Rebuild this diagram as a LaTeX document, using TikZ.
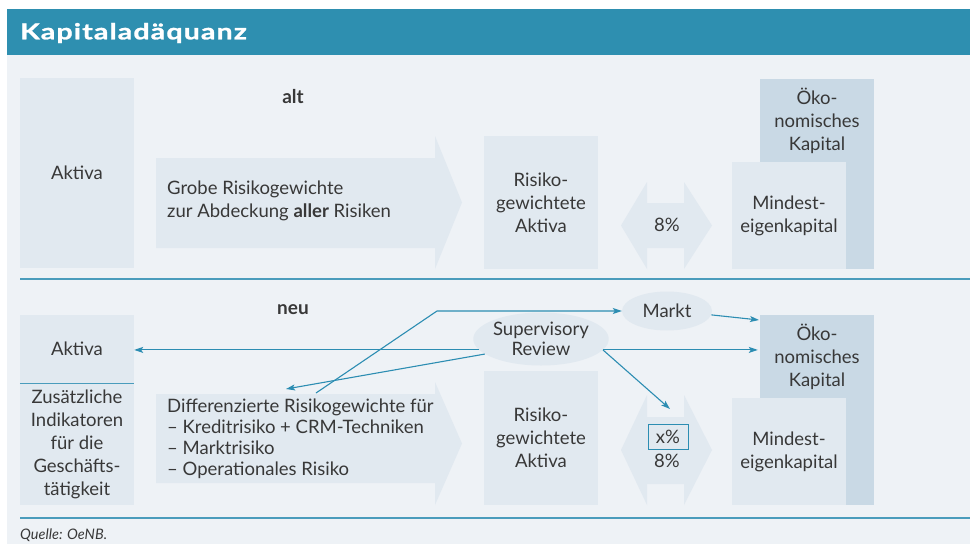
\documentclass[tikz,border=0pt]{standalone}
\usepackage{fontspec}
\setmainfont{Lato}
\newfontfamily\titlefont[FakeStretch=1.3,LetterSpace=5,BoldFeatures={FakeBold=1.2}]{Lato}
\usetikzlibrary{arrows.meta,shapes.geometric}
\definecolor{hdr}{HTML}{2E8FB0}
\definecolor{panel}{HTML}{EEF2F6}
\definecolor{boxlight}{HTML}{E1E9F0}
\definecolor{boxdark}{HTML}{C9D9E5}
\definecolor{sepline}{HTML}{4A9CBC}
\definecolor{arrcol}{HTML}{2C8DB2}
\definecolor{txt}{HTML}{383838}
\tikzset{
  body/.style={font=\fontsize{18.5}{23}\selectfont, text=txt},
  lbox/.style={fill=boxlight, inner sep=0pt, align=center, body},
  dbox/.style={fill=boxdark, inner sep=0pt, align=center, body},
  plain/.style={inner sep=0pt, align=center, body},
  ell/.style={ellipse, fill=boxlight, inner sep=0pt, align=center, body, font=\fontsize{18.5}{20}\selectfont},
  arr/.style={draw=arrcol, line width=1.1pt, -{Stealth[length=9pt,width=6pt,inset=2pt]}},
  sep/.style={draw=sepline, line width=1.4pt},
  shapefill/.style={fill=boxlight},
  hd/.style={inner sep=0pt, text=txt, font=\fontsize{19}{20}\selectfont\bfseries}
}
\begin{document}
\begin{tikzpicture}[x=1pt,y=-1pt]
\useasboundingbox (0,0) rectangle (970,544);
\fill[white] (0,0) rectangle (970,544);
\fill[panel] (7,55) rectangle (970,544);
\fill[hdr] (7,9) rectangle (970,55);
\node[anchor=west, text=white, inner sep=0pt, font=\titlefont\bfseries\fontsize{22}{24}\selectfont] (title) at (20,33) {Kapitaladäquanz};

% ---------- alt ----------
\node[hd] (alt) at (293,97) {alt};
\node[lbox, minimum width=114pt, minimum height=190pt] (aktA) at (77,173) {Aktiva};
\fill[shapefill] (156,158) -- (435,158) -- (435,136) -- (462,202.5) -- (435,269) -- (435,248) -- (156,248) -- cycle;
\node[plain, anchor=west, align=left] (grobe) at (167,201) {Grobe Risikogewichte\\zur Abdeckung \textbf{aller} Risiken};
\node[lbox, minimum width=114pt, minimum height=133pt] (rwaA) at (541,202.5) {Risiko-\\gewichtete\\Aktiva};
\fill[shapefill] (621,225.5) -- (647,182) -- (647,203) -- (684,203) -- (684,182) -- (712,225.5) -- (684,269) -- (684,248) -- (647,248) -- (647,269) -- cycle;
\node[plain] (pctA) at (667,225) {8\%};
\fill[boxdark] (760,79) rectangle (874,269);
\node[plain] (okoA) at (817,121) {Öko-\\nomisches\\Kapital};
\node[lbox, minimum width=114pt, minimum height=107pt] (minA) at (789,215.5) {Mindest-\\eigenkapital};

\draw[sep] (20,279) -- (970,279);

% ---------- neu ----------
\node[hd] (neu) at (293,310) {neu};
\node[lbox, minimum width=114pt, minimum height=68pt] (aktB) at (77,349) {Aktiva};
\node[lbox, minimum width=114pt, minimum height=122pt] (zus) at (77,444) {Zusätzliche\\Indikatoren\\für die\\Geschäfts-\\tätigkeit};
\draw[sep, line width=1.2pt] (aktB.south west) -- (aktB.south east);
\fill[shapefill] (156,394) -- (435,394) -- (435,382) -- (462,443.5) -- (435,505) -- (435,483) -- (156,483) -- cycle;
\node[plain, anchor=west, align=left, font=\fontsize{18.5}{21}\selectfont] (diff) at (167,439) {Differenzierte Risikogewichte für\\\textendash{} Kreditrisiko + CRM-Techniken\\\textendash{} Marktrisiko\\\textendash{} Operationales Risiko};
\node[lbox, minimum width=114pt, minimum height=134pt] (rwaB) at (541,438) {Risiko-\\gewichtete\\Aktiva};
\fill[shapefill] (621,450) -- (647,395) -- (647,417) -- (684,417) -- (684,395) -- (712,450) -- (684,505) -- (684,484) -- (647,484) -- (647,505) -- cycle;
\node[plain, draw=arrcol, line width=0.9pt, minimum width=40pt, minimum height=25pt] (xpct) at (668,436.5) {x\%};
\node[plain] (pctB) at (667,461) {8\%};
\node[dbox, minimum width=114pt, minimum height=190pt] (okoB) at (817,410) {};
\node[plain] (okoBt) at (817,357) {Öko-\\nomisches\\Kapital};
\node[lbox, minimum width=114pt, minimum height=107pt] (minB) at (789,451.5) {Mindest-\\eigenkapital};

\node[ell, minimum width=90pt, minimum height=39pt] (markt) at (667,311) {Markt};
\node[ell, minimum width=114pt, minimum height=53pt] (sr) at (541,339) {Supervisory\\Review};

\coordinate (dstart) at (316,393);
\coordinate (bend1) at (437,311);
\coordinate (dtip) at (286,389);
\coordinate (xtip) at (670,409);
\coordinate (okotip) at (759,320);

\draw[arr] (sr.190) -- (sr.190 -| aktB.east);
\draw[arr] (sr.350) -- ([xshift=-2pt]sr.350 -| okoB.west);
\draw[arr] (sr.350) -- (xtip);
\draw[arr] (dstart) -- (bend1) -- (markt.west);
\draw[arr] (sr.195) -- (dtip);
\draw[arr] (markt.355) -- (okotip);

\draw[sep] (20,518) -- (970,518);
\node[anchor=west, inner sep=0pt, text=txt, font=\fontsize{14.5}{16}\selectfont\itshape] (quelle) at (20,535) {Quelle: OeNB.};
\end{tikzpicture}
\end{document}
